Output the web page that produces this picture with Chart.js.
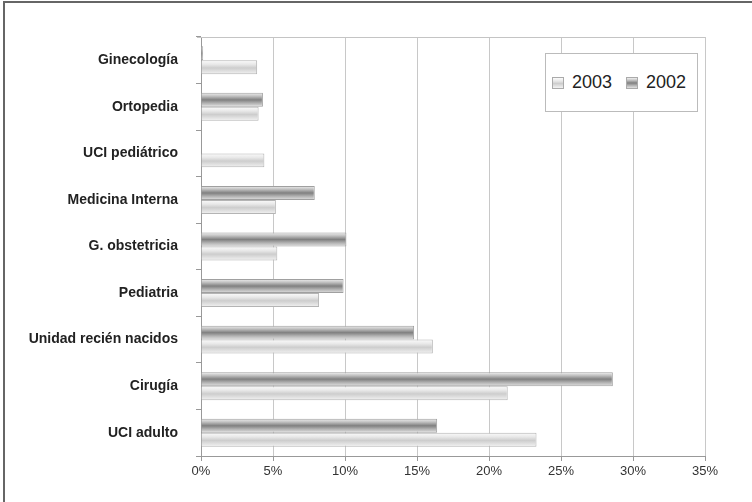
<!DOCTYPE html>
<html>
<head>
<meta charset="utf-8">
<script src="https://cdn.jsdelivr.net/npm/chart.js@4.4.1/dist/chart.umd.min.js"></script>
<style>
  html, body { margin: 0; padding: 0; background: #fff; }
  #wrap { position: relative; width: 752px; height: 502px; overflow: hidden; }
  #frame { position: absolute; left: 3px; top: 1px; width: 800px; height: 600px;
           border-left: 2px solid #666; border-top: 2px solid #666; pointer-events: none; }
  #legend { position: absolute; left: 545px; top: 53px; width: 151px; height: 57px;
            border: 1px solid #bbb; background: #fff; display: flex; align-items: center;
            font-family: "Liberation Sans", Arial, sans-serif; font-size: 18px; color: #222; }
  #legend .item { display: flex; align-items: center; margin-left: 6px; margin-right: 8px; }
  #legend .sw { width: 12px; height: 12px; border: 1px solid #aaa; box-sizing: border-box; margin-right: 8px; }
</style>
</head>
<body>
<div id="wrap">
  <canvas id="chart" width="752" height="502"></canvas>
  <div id="frame"></div>
  <div id="legend"></div>
</div>
<script>
const categories = ['Ginecología', 'Ortopedia', 'UCI pediátrico', 'Medicina Interna', 'G. obstetricia',
  'Pediatria', 'Unidad recién nacidos', 'Cirugía', 'UCI adulto'];
const values2002 = [0.15, 4.3, 0, 7.9, 10.1, 9.9, 14.8, 28.6, 16.4];
const values2003 = [3.9, 4.0, 4.4, 5.2, 5.3, 8.2, 16.1, 21.3, 23.3];
const xTicks = [0, 5, 10, 15, 20, 25, 30, 35];

const CAT_PCT = 0.6;

// vertical shading stops for each series
const shades = [
  [[0, '#efefef'], [0.22, '#c4c4c4'], [0.5, '#808080'], [0.75, '#b4b4b4'], [1, '#e2e2e2']],
  [[0, '#fbfbfb'], [0.3, '#e8e8e8'], [0.55, '#cdcdcd'], [0.8, '#e2e2e2'], [1, '#f3f3f3']]
];

function barFill(ctx) {
  const chart = ctx.chart;
  const y = chart.scales.y;
  const di = ctx.datasetIndex;
  if (!y || ctx.type !== 'data' || !y.height) return shades[di][2][1];
  const catH = y.height / categories.length;
  const barH = catH * CAT_PCT / 2;
  const top = y.getPixelForValue(ctx.index) - barH + di * barH;
  const g = chart.ctx.createLinearGradient(0, top, 0, top + barH);
  shades[di].forEach(([p, c]) => g.addColorStop(p, c));
  return g;
}

// light box line along the top of the plot
const plotTop = {
  id: 'plotTop',
  beforeDatasetsDraw(chart) {
    const { ctx, chartArea } = chart;
    ctx.save();
    ctx.strokeStyle = '#c4c4c4';
    ctx.lineWidth = 1;
    ctx.beginPath();
    ctx.moveTo(chartArea.left - 4, chartArea.top + 0.5);
    ctx.lineTo(chartArea.right, chartArea.top + 0.5);
    ctx.stroke();
    ctx.restore();
  }
};

const chart = new Chart(document.getElementById('chart'), {
  type: 'bar',
  data: {
    labels: categories,
    datasets: [
      { label: '2002', data: values2002, backgroundColor: barFill, borderColor: '#a0a0a0', borderWidth: 1 },
      { label: '2003', data: values2003, backgroundColor: barFill, borderColor: '#b4b4b4', borderWidth: 1 }
    ]
  },
  options: {
    indexAxis: 'y',
    responsive: false,
    animation: false,
    events: [],
    layout: { padding: { top: 37, right: 47, left: 0, bottom: 0 } },
    datasets: { bar: { categoryPercentage: CAT_PCT, barPercentage: 1 } },
    scales: {
      x: {
        min: 0,
        max: 35,
        afterBuildTicks(scale) { scale.ticks = xTicks.map(v => ({ value: v })); },
        afterFit(scale) { scale.height = 46; },
        grid: { color: '#c8c8c8', tickColor: '#999', tickLength: 5 },
        border: { color: '#999' },
        ticks: {
          padding: 3,
          color: '#333',
          font: { family: '"Liberation Sans", Arial, sans-serif', size: 13 },
          callback: v => v + '%'
        }
      },
      y: {
        afterFit(scale) { scale.width = 201; },
        grid: { drawOnChartArea: false, tickColor: '#999', tickLength: 5, offset: true },
        border: { color: '#999' },
        ticks: {
          padding: 18,
          color: '#222',
          font: { family: '"Liberation Sans", Arial, sans-serif', size: 14, weight: 'bold' }
        }
      }
    },
    plugins: {
      legend: { display: false },
      tooltip: { enabled: false }
    }
  },
  plugins: [plotTop]
});

// legend box, listed in reverse dataset order
const legendEl = document.getElementById('legend');
chart.data.datasets.slice().reverse().forEach(ds => {
  const di = chart.data.datasets.indexOf(ds);
  const stops = shades[di].map(([p, c]) => c + ' ' + (p * 100) + '%').join(', ');
  const item = document.createElement('div');
  item.className = 'item';
  item.innerHTML = '<span class="sw" style="background: linear-gradient(' + stops + ')"></span>' + ds.label;
  legendEl.appendChild(item);
});
</script>
</body>
</html>
